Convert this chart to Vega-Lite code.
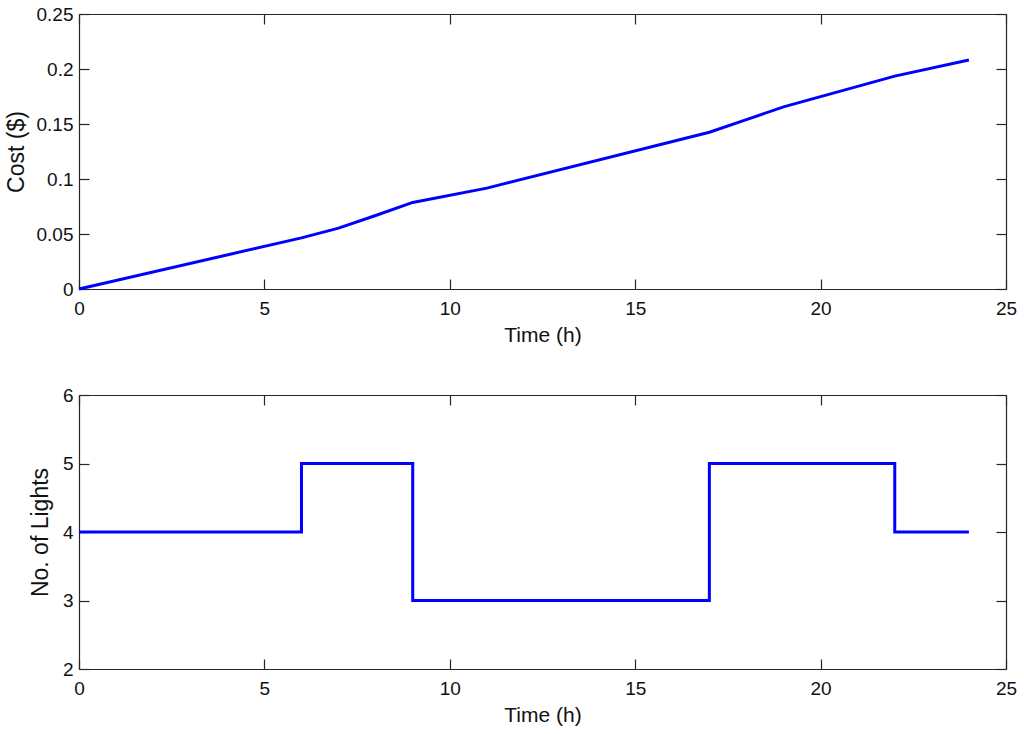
{
  "$schema": "https://vega.github.io/schema/vega-lite/v6.json",
  "padding": {"left": 5, "top": 5, "right": 5, "bottom": 5},
  "background": "white",
  "spacing": 41,
  "config": {
    "view": {"stroke": null},
    "font": "Liberation Sans",
    "axis": {
      "grid": false,
      "domainColor": "#262626",
      "domainWidth": 1.2,
      "tickColor": "#262626",
      "tickWidth": 1.2,
      "tickSize": -10,
      "labelFont": "Liberation Sans",
      "labelFontSize": 19,
      "labelColor": "#111111",
      "titleFont": "Liberation Sans",
      "titleFontWeight": "normal",
      "titleColor": "#111111",
      "labelFlush": false,
      "labelOverlap": false
    }
  },
  "datasets": {
    "cost": [
      {"t": 0, "cost": 0},
      {"t": 6, "cost": 0.0465},
      {"t": 7, "cost": 0.0553},
      {"t": 8, "cost": 0.0668},
      {"t": 9, "cost": 0.0787},
      {"t": 11, "cost": 0.0917},
      {"t": 17, "cost": 0.1425},
      {"t": 18, "cost": 0.154},
      {"t": 19, "cost": 0.1656},
      {"t": 22, "cost": 0.1935},
      {"t": 24, "cost": 0.2081}
    ],
    "lights": [
      {"t": 0, "n": 4},
      {"t": 6, "n": 5},
      {"t": 9, "n": 3},
      {"t": 17, "n": 5},
      {"t": 22, "n": 4},
      {"t": 24, "n": 4}
    ]
  },
  "vconcat": [
    {
      "width": 927,
      "height": 275,
      "data": {"name": "cost"},
      "layer": [
        {
          "mark": {"type": "line", "color": "#0000ff", "strokeWidth": 3},
          "encoding": {
            "x": {"field": "t", "type": "quantitative", "scale": {"domain": [0, 25], "nice": false},
              "axis": {"orient": "bottom", "title": "Time (h)", "titleFontSize": 21, "values": [0, 5, 10, 15, 20, 25], "labelPadding": 20, "titlePadding": 6}},
            "y": {"field": "cost", "type": "quantitative", "scale": {"domain": [0, 0.25], "nice": false},
              "axis": {"orient": "left", "title": "Cost ($)", "titleFontSize": 23, "values": [0, 0.05, 0.1, 0.15, 0.2, 0.25], "format": "~g", "labelPadding": 16, "titlePadding": 8}}
          }
        },
        {
          "mark": {"type": "line", "strokeOpacity": 0},
          "encoding": {
            "x": {"field": "t", "type": "quantitative", "axis": {"orient": "top", "title": null, "labels": false, "values": [0, 5, 10, 15, 20, 25]}},
            "y": {"field": "cost", "type": "quantitative", "axis": {"orient": "right", "title": null, "labels": false, "values": [0, 0.05, 0.1, 0.15, 0.2, 0.25]}}
          }
        }
      ],
      "resolve": {"axis": {"x": "independent", "y": "independent"}}
    },
    {
      "width": 927,
      "height": 274,
      "data": {"name": "lights"},
      "layer": [
        {
          "mark": {"type": "line", "color": "#0000ff", "strokeWidth": 3, "interpolate": "step-after"},
          "encoding": {
            "x": {"field": "t", "type": "quantitative", "scale": {"domain": [0, 25], "nice": false},
              "axis": {"orient": "bottom", "title": "Time (h)", "titleFontSize": 21, "values": [0, 5, 10, 15, 20, 25], "labelPadding": 20, "titlePadding": 6}},
            "y": {"field": "n", "type": "quantitative", "scale": {"domain": [2, 6], "nice": false, "zero": false},
              "axis": {"orient": "left", "title": "No. of Lights", "titleFontSize": 23, "values": [2, 3, 4, 5, 6], "labelPadding": 16, "titlePadding": 10}}
          }
        },
        {
          "mark": {"type": "line", "strokeOpacity": 0},
          "encoding": {
            "x": {"field": "t", "type": "quantitative", "axis": {"orient": "top", "title": null, "labels": false, "values": [0, 5, 10, 15, 20, 25]}},
            "y": {"field": "n", "type": "quantitative", "axis": {"orient": "right", "title": null, "labels": false, "values": [2, 3, 4, 5, 6]}}
          }
        }
      ],
      "resolve": {"axis": {"x": "independent", "y": "independent"}}
    }
  ]
}
